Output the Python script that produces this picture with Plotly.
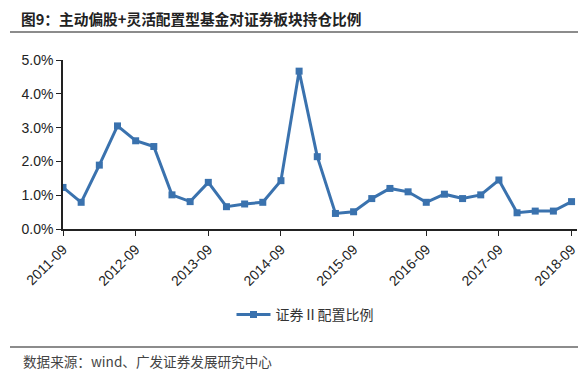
import plotly.graph_objects as go

periods = []
for y in range(2011, 2019):
    for m in ["03", "06", "09", "12"]:
        p = f"{y}-{m}"
        if "2011-09" <= p <= "2018-09":
            periods.append(p)

values = [1.23, 0.79, 1.89, 3.05, 2.61, 2.44, 1.01, 0.81, 1.38, 0.66, 0.74, 0.79,
          1.43, 4.67, 2.14, 0.46, 0.51, 0.90, 1.20, 1.10, 0.79, 1.03, 0.90, 1.01,
          1.45, 0.48, 0.53, 0.53, 0.81]
values = [v / 100 for v in values]

tick_labels = [f"{y}-09" for y in range(2011, 2019)]
y_ticks = [0, 0.01, 0.02, 0.03, 0.04, 0.05]

series_name = "证券Ⅱ配置比例"
title_text = "图9：主动偏股+灵活配置型基金对证券板块持仓比例"
source_text = "数据来源：wind、广发证券发展研究中心"

color = "#3A72AE"
cjk = "Noto Sans CJK SC"
latin = "Liberation Sans, Arial"

fig = go.Figure()
fig.add_trace(go.Scatter(
    x=periods, y=values, mode="lines+markers", name=series_name,
    line=dict(color=color, width=3),
    marker=dict(symbol="square", size=7, color=color),
))

# the page body has an 8px margin; work in page pixels and shift
OFF = 8
W, H = 586 - OFF, 381 - OFF
L, R, T, B = 63 - OFF, 9, 60 - OFF, 381 - 229
pw = W - L - R
ph = H - T - B

def px(x):
    return (x - OFF - L) / pw

def py(y):
    return (H - B - (y - OFF)) / ph

fig.update_layout(
    width=W, height=H,
    margin=dict(l=L, r=R, t=T, b=B, autoexpand=False),
    paper_bgcolor="white", plot_bgcolor="white",
    showlegend=True,
    legend=dict(orientation="h", x=px(305), xanchor="center", y=py(315), yanchor="middle",
                font=dict(family=cjk, size=14, color="#333"), bgcolor="rgba(0,0,0,0)",
                itemwidth=34),
    xaxis=dict(type="category", range=[0, 28.3], tickmode="array", tickvals=tick_labels,
               ticktext=tick_labels, tickangle=-45, showgrid=False, showline=True,
               linecolor="#222", linewidth=1.5, ticks="outside", ticklen=5, tickcolor="#222",
               tickfont=dict(family=latin, size=14, color="#222")),
    yaxis=dict(range=[0, 0.05], tickvals=y_ticks, tickformat=".1%", showgrid=False,
               showline=True, linecolor="#222", linewidth=1.5, ticks="outside", ticklen=5,
               tickcolor="#222", zeroline=False,
               tickfont=dict(family=latin, size=14, color="#222")),
    annotations=[
        dict(text=f"<b>{title_text}</b>", xref="paper", yref="paper", x=px(19), y=py(18),
             xanchor="left", yanchor="middle", showarrow=False,
             font=dict(family=cjk, size=14.7, color="#222")),
        dict(text=source_text, xref="paper", yref="paper", x=px(21), y=py(361),
             xanchor="left", yanchor="middle", showarrow=False,
             font=dict(family=cjk, size=13.6, color="#444")),
    ],
    shapes=[
        dict(type="line", xref="paper", yref="paper", x0=px(10), x1=px(586), y0=py(32), y1=py(32),
             line=dict(color="#666", width=1.5)),
        dict(type="line", xref="paper", yref="paper", x0=px(10), x1=px(586), y0=py(347), y1=py(347),
             line=dict(color="#666", width=1.5)),
    ],
)

fig.write_html("out.html")
